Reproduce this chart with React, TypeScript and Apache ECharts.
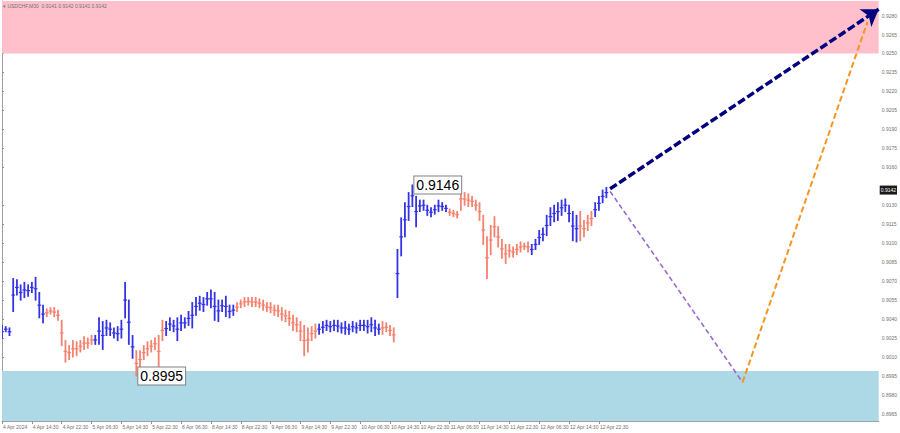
import React, { useEffect, useRef } from "react";
import * as echarts from "echarts";

const symbolTitle = "USDCHF,M30";
const headerOHLC = [0.9141, 0.9142, 0.9141, 0.9142];
const lastPrice = 0.9142;

const timeLabels = [
  "4 Apr 2024", "4 Apr 14:30", "4 Apr 22:30", "5 Apr 06:30", "5 Apr 14:30", "5 Apr 22:30",
  "8 Apr 06:30", "8 Apr 14:30", "8 Apr 22:30", "9 Apr 06:30", "9 Apr 14:30", "9 Apr 22:30",
  "10 Apr 06:30", "10 Apr 14:30", "10 Apr 22:30", "11 Apr 06:30", "11 Apr 14:30", "11 Apr 22:30",
  "12 Apr 06:30", "12 Apr 14:30", "12 Apr 22:30",
];
const barsPerLabel = 8;
const lastSlot = 235;

// 0.9145 is hidden behind the current-price box in the reference
const priceTicks = [
  0.8965, 0.898, 0.8995, 0.901, 0.9025, 0.904, 0.9055, 0.907, 0.9085, 0.91, 0.9115,
  0.913, 0.916, 0.9175, 0.919, 0.9205, 0.922, 0.9235, 0.925, 0.9265, 0.928,
];
const yMin = 0.89594;
const yMax = 0.92915;

const highs = [
  0.9035, 0.9034, 0.9033, 0.9072, 0.9071, 0.9067, 0.9069, 0.9067, 0.9069, 0.9073,
  0.9061, 0.9051, 0.9048, 0.9049, 0.9049, 0.9047, 0.9039, 0.9023, 0.9019, 0.9023,
  0.9022, 0.9023, 0.9026, 0.9025, 0.9027, 0.9027, 0.9041, 0.9038, 0.9039, 0.9037,
  0.9033, 0.9034, 0.9039, 0.9069, 0.9055, 0.9027, 0.9015, 0.9015, 0.9019, 0.9022,
  0.9023, 0.9025, 0.9027, 0.9039, 0.9038, 0.9041, 0.9039, 0.9041, 0.9043, 0.9041,
  0.9046, 0.9053, 0.9057, 0.9058, 0.9057, 0.9061, 0.9063, 0.9061, 0.9055, 0.9055,
  0.9058, 0.9051, 0.9051, 0.9053, 0.9055, 0.9057, 0.9057, 0.9057, 0.9057, 0.9056,
  0.9055, 0.9053, 0.9053, 0.9051, 0.9051, 0.9049, 0.9047, 0.9046, 0.9043, 0.9041,
  0.9038, 0.9035, 0.9033, 0.9034, 0.9036, 0.9036, 0.9038, 0.9039, 0.9038, 0.9039,
  0.9039, 0.9037, 0.9038, 0.9036, 0.9038, 0.9037, 0.9039, 0.9039, 0.9039, 0.9041,
  0.9039, 0.9036, 0.9038, 0.9037, 0.9035, 0.9033, 0.9095, 0.912, 0.9132, 0.914,
  0.9146, 0.9137, 0.9134, 0.9134, 0.913, 0.9128, 0.913, 0.9134, 0.9132, 0.913,
  0.9127, 0.9126, 0.9125, 0.9144, 0.914, 0.9139, 0.9137, 0.9134, 0.9132, 0.9122,
  0.9105, 0.9114, 0.9121, 0.9113, 0.9103, 0.9099, 0.9099, 0.9097, 0.9099, 0.9101,
  0.91, 0.9101, 0.9099, 0.9103, 0.911, 0.9112, 0.9122, 0.9128, 0.913, 0.9132,
  0.9134, 0.9135, 0.913, 0.9125, 0.9122, 0.9125, 0.9118, 0.9122, 0.9125, 0.9132,
  0.9137, 0.9142, 0.9144,
];
const lows = [
  0.9025, 0.903, 0.9027, 0.9046, 0.9059, 0.9055, 0.9057, 0.9058, 0.9061, 0.9055,
  0.9041, 0.9037, 0.9042, 0.9044, 0.9042, 0.9039, 0.9019, 0.9006, 0.9008, 0.901,
  0.9011, 0.9014, 0.9016, 0.9017, 0.902, 0.902, 0.902, 0.9016, 0.9027, 0.9027,
  0.9025, 0.9023, 0.9025, 0.9041, 0.902, 0.9009, 0.8995, 0.9001, 0.9008, 0.9011,
  0.9014, 0.9016, 0.9002, 0.9023, 0.9027, 0.9031, 0.903, 0.9023, 0.9031, 0.9033,
  0.9035, 0.9033, 0.9043, 0.9047, 0.9046, 0.9051, 0.9049, 0.9039, 0.9038, 0.9046,
  0.9042, 0.9041, 0.9043, 0.9046, 0.9049, 0.905, 0.9051, 0.905, 0.905, 0.9049,
  0.9047, 0.9046, 0.9045, 0.9043, 0.9042, 0.9039, 0.9038, 0.9035, 0.9031, 0.903,
  0.9023, 0.9011, 0.9014, 0.9023, 0.9025, 0.9028, 0.9029, 0.9031, 0.903, 0.9031,
  0.903, 0.9029, 0.9028, 0.9028, 0.903, 0.9029, 0.9031, 0.9031, 0.9029, 0.903,
  0.9027, 0.9028, 0.9028, 0.903, 0.9027, 0.9022, 0.9057, 0.909, 0.9105, 0.9118,
  0.9129, 0.9113, 0.9125, 0.9126, 0.9122, 0.9121, 0.9123, 0.9125, 0.9126, 0.9125,
  0.9122, 0.9121, 0.912, 0.9126, 0.913, 0.9129, 0.9129, 0.9126, 0.9118, 0.9099,
  0.9072, 0.9091, 0.9105, 0.9097, 0.9088, 0.9084, 0.9089, 0.9089, 0.9091, 0.9093,
  0.9095, 0.9093, 0.9091, 0.9095, 0.9099, 0.9102, 0.9106, 0.9114, 0.9117, 0.9118,
  0.9122, 0.9125, 0.9117, 0.9102, 0.9101, 0.9102, 0.9105, 0.911, 0.9114, 0.9121,
  0.9126, 0.9132, 0.9136,
];

// wave segments: start bar index and direction
const waveStarts = [0, 12, 25, 36, 44, 63, 85, 102, 106, 120, 142, 155, 159];
const waveUp = [true, false, true, false, true, false, true, false, true, false, true, false, true];

const resistanceZone = [0.925, yMax];
const supportZone = [yMin, 0.8999];

const mainForecast = [[163, 0.9143], [235, 0.9285]];
const altForecastDown = [[163, 0.9141], [198.5, 0.899]];
const altForecastUp = [[198.5, 0.899], [232, 0.9275]];

const BLUE = "#3434e6";
const SALMON = "#f5826e";

export default function App() {
  const ref = useRef<HTMLDivElement>(null);

  useEffect(() => {
    const chart = echarts.init(ref.current!, null, { renderer: "svg" });

    const isUp = (i: number) => {
      let d = waveUp[0];
      for (let k = 0; k < waveStarts.length; k++) if (i >= waveStarts[k]) d = waveUp[k];
      return d ? 1 : 0;
    };
    const bars = highs.map((h, i) => [i, h, lows[i], isUp(i)]);

    let hiIdx = 0;
    let loIdx = 0;
    highs.forEach((h, i) => { if (h > highs[hiIdx]) hiIdx = i; });
    lows.forEach((l, i) => { if (l < lows[loIdx]) loIdx = i; });

    const tickPos = timeLabels.map((_, k) => k * barsPerLabel);

    const boxLabel = {
      show: true,
      position: "right" as const,
      distance: 2,
      formatter: (p: any) => Number(p.value).toFixed(4),
      backgroundColor: "#ffffff",
      borderColor: "#808080",
      borderWidth: 1,
      padding: [2, 2, 1, 2],
      fontSize: 14,
      color: "#000",
      fontFamily: "Liberation Sans",
    };

    chart.setOption({
      animation: false,
      backgroundColor: "#ffffff",
      textStyle: { fontFamily: "Liberation Sans" },
      grid: { left: 0, right: 18, top: 1, bottom: 12, containLabel: false },
      xAxis: {
        type: "value",
        min: 0,
        max: lastSlot,
        axisLine: { show: true, lineStyle: { color: "#a0a0a0", width: 1 } },
        axisTick: { show: true, customValues: tickPos, length: 3, lineStyle: { color: "#909090" } },
        axisLabel: {
          show: true,
          customValues: tickPos,
          formatter: (v: number) => timeLabels[Math.round(v / barsPerLabel)] ?? "",
          align: "left",
          fontSize: 5,
          color: "#707070",
          margin: 3,
          padding: [0, 0, 0, 1],
        },
        splitLine: { show: false },
      },
      yAxis: {
        type: "value",
        position: "right",
        min: yMin,
        max: yMax,
        axisLine: { show: true, lineStyle: { color: "#a0a0a0", width: 1 } },
        axisTick: { show: true, customValues: priceTicks, length: 2, lineStyle: { color: "#909090" } },
        axisLabel: {
          show: true,
          customValues: priceTicks,
          formatter: (v: number) => v.toFixed(4),
          fontSize: 5,
          color: "#707070",
          margin: 3,
        },
        splitLine: { show: false },
      },
      graphic: [
        {
          type: "text",
          left: 3,
          top: 3,
          z: 100,
          style: {
            text: `▾ ${symbolTitle}  ${headerOHLC.map((v) => v.toFixed(4)).join(" ")}`,
            fontSize: 5,
            fill: "#707070",
            fontFamily: "Liberation Sans",
          },
        },
      ],
      series: [
        {
          type: "line",
          data: [],
          z: 1,
          silent: true,
          markArea: {
            silent: true,
            data: [
              [{ yAxis: resistanceZone[0], itemStyle: { color: "#ffc0cb" } }, { yAxis: resistanceZone[1] }],
              [{ yAxis: supportZone[0], itemStyle: { color: "#add8e6" } }, { yAxis: supportZone[1] }],
            ],
          },
        },
        {
          type: "custom",
          z: 3,
          data: bars,
          encode: { x: 0, y: [1, 2] },
          clip: true,
          renderItem: (params: any, api: any) => {
            const x = api.value(0);
            const hi = api.value(1);
            const lo = api.value(2);
            const p1 = api.coord([x, hi]);
            const p2 = api.coord([x, lo]);
            const color = api.value(3) ? BLUE : SALMON;
            const midY = (p1[1] + p2[1]) / 2;
            const half = api.size([1, 0])[0] / 2;
            return {
              type: "group",
              children: [
                {
                  type: "line",
                  shape: { x1: p1[0], y1: p1[1] - 0.5, x2: p2[0], y2: p2[1] + 0.5 },
                  style: { stroke: color, lineWidth: 1.8 },
                },
                {
                  type: "line",
                  shape: { x1: p1[0] - half, y1: midY, x2: p1[0] + half, y2: midY },
                  style: { stroke: color, lineWidth: 1.2 },
                },
              ],
            };
          },
          markPoint: {
            symbol: "circle",
            symbolSize: 0,
            data: [
              { coord: [hiIdx, highs[hiIdx]], value: highs[hiIdx], label: boxLabel },
              { coord: [loIdx, lows[loIdx]], value: lows[loIdx], label: boxLabel },
            ],
          },
        },
        {
          type: "line",
          data: [],
          z: 5,
          silent: true,
          clip: false,
          markPoint: {
            symbol: "rect",
            symbolSize: 0,
            data: [
              {
                coord: [lastSlot, lastPrice],
                value: lastPrice,
                label: {
                  show: true,
                  position: "right",
                  distance: 1,
                  formatter: (p: any) => Number(p.value).toFixed(4),
                  backgroundColor: "#1a1a1a",
                  color: "#ffffff",
                  fontSize: 5,
                  padding: [2, 1, 2, 1],
                },
              },
            ],
          },
          markLine: {
            silent: true,
            animation: false,
            label: { show: false },
            data: [
              [
                {
                  coord: altForecastDown[0],
                  symbol: "none",
                  lineStyle: { color: "#9a6ad0", width: 1.6, type: [5, 3] },
                },
                { coord: altForecastDown[1], symbol: "none" },
              ],
              [
                {
                  coord: altForecastUp[0],
                  symbol: "none",
                  lineStyle: { color: "#f7941d", width: 2, type: [6, 3] },
                },
                { coord: altForecastUp[1], symbol: "none" },
              ],
              [
                {
                  coord: mainForecast[0],
                  symbol: "none",
                  lineStyle: { color: "#000080", width: 3.5, type: [8, 3] },
                },
                { coord: mainForecast[1], symbol: "arrow", symbolSize: 16 },
              ],
            ],
          },
        },
      ],
    });

    return () => chart.dispose();
  }, []);

  return (
    <div
      ref={ref}
      style={{ position: "fixed", left: 0, top: 0, width: 900, height: 433, background: "#fff" }}
    />
  );
}
